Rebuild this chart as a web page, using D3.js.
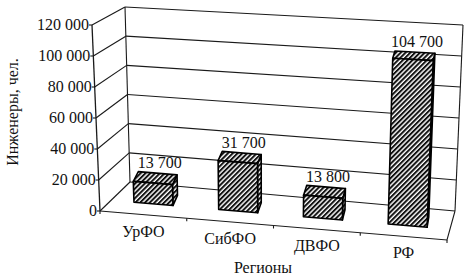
<!DOCTYPE html>
<html>
<head>
<meta charset="utf-8">
<script src="https://cdn.jsdelivr.net/npm/d3@7/dist/d3.min.js"></script>
<style>
  body { margin: 0; background: #fff; }
</style>
</head>
<body>
<svg id="chart" width="468" height="279" font-family="'Liberation Serif', 'DejaVu Serif', serif"></svg>
<script>
// data
var regions = ["УрФО", "СибФО", "ДВФО", "РФ"];
var engineers = [13700, 31700, 13800, 104700];
var yTicks = [0, 20000, 40000, 60000, 80000, 100000, 120000];
var yTitle = "Инженеры, чел.";
var xTitle = "Регионы";

var svg = d3.select("#chart");

// corners of the front (z=0) and back (z=1) planes, scan is a bit skewed
var F = { bl: [100, 211], tl: [92, 25], br: [447, 240], tr: [455, 45] };
var B = { bl: [130, 182], tl: [125, 7], br: [455, 211], tr: [463, 25] };

function lerp(a, b, k) { return [a[0] + (b[0] - a[0]) * k, a[1] + (b[1] - a[1]) * k]; }
function plane(P, u, t) { return lerp(lerp(P.bl, P.br, u), lerp(P.tl, P.tr, u), t); }
function proj(u, t, z) { return lerp(plane(F, u, t), plane(B, u, t), z); }

// bars look shallower sideways than the floor does
function barProj(u, t, za, zb) {
  var a = proj(u, t, za), b = proj(u, t, zb);
  return [a[0] + (b[0] - a[0]) * 0.5, a[1] + (b[1] - a[1])];
}

var x = d3.scaleBand().domain(regions).range([0, 1]).paddingInner(0.54).paddingOuter(0.27);
var y = d3.scaleLinear().domain([0, 120000]).range([0, 1]);
var fmt = function (v) { return d3.format(",")(v).replace(/,/g, " "); };
var line = d3.line();

// hatch
var defs = svg.append("defs");
var pat = defs.append("pattern")
  .attr("id", "hatch")
  .attr("patternUnits", "userSpaceOnUse")
  .attr("width", 3.4).attr("height", 3.4)
  .attr("patternTransform", "rotate(45)");
pat.append("rect").attr("width", 3.4).attr("height", 3.4).attr("fill", "#fff");
pat.append("line").attr("x1", 1).attr("y1", 0).attr("x2", 1).attr("y2", 3.4)
  .attr("stroke", "#111").attr("stroke-width", 2);

var frame = svg.append("g").attr("fill", "none").attr("stroke", "#1a1a1a").attr("stroke-width", 1.1);

// back wall gridlines + side wall gridlines
yTicks.forEach(function (v) {
  var t = y(v);
  frame.append("path").attr("d", line([proj(0, t, 1), proj(1, t, 1)]));
  frame.append("path").attr("d", line([proj(0, t, 0), proj(0, t, 1)]));
});
// wall edges
frame.append("path").attr("d", line([proj(0, 0, 1), proj(0, 1, 1)]));
frame.append("path").attr("d", line([proj(1, 0, 1), proj(1, 1, 1)]));
// floor
frame.append("path").attr("d", line([proj(0, 0, 0), proj(1, 0, 0), proj(1, 0, 1)]));
// value axis
frame.append("path").attr("d", line([proj(0, 0, 0), proj(0, 1, 0)])).attr("stroke-width", 1.3);

// value ticks and labels
yTicks.forEach(function (v) {
  var p = proj(0, y(v), 0);
  frame.append("path").attr("d", line([[p[0] - 3, p[1]], p]));
  svg.append("text")
    .attr("x", p[0] - 3).attr("y", p[1] + 5)
    .attr("text-anchor", "end")
    .attr("font-size", 16)
    .attr("fill", "#111")
    .text(fmt(v));
});

// category ticks
[0, 0.25, 0.5, 0.75, 1].forEach(function (u) {
  var p = proj(u, 0, 0);
  frame.append("path").attr("d", line([p, [p[0], p[1] + 3]]));
});

// bars
var z0 = 0.37, z1 = 0.72;
var bw = x.bandwidth();
var bars = svg.append("g")
  .attr("fill", "url(#hatch)").attr("stroke", "#000")
  .attr("stroke-width", 1.6).attr("stroke-linejoin", "round");

regions.forEach(function (r, i) {
  var u0 = x(r), u1 = u0 + bw, t = y(engineers[i]);
  var side = [proj(u1, 0, z0), barProj(u1, 0, z0, z1), barProj(u1, t, z0, z1), proj(u1, t, z0)];
  var top = [proj(u0, t, z0), proj(u1, t, z0), barProj(u1, t, z0, z1), barProj(u0, t, z0, z1)];
  var front = [proj(u0, 0, z0), proj(u1, 0, z0), proj(u1, t, z0), proj(u0, t, z0)];
  [side, top, front].forEach(function (f) {
    bars.append("path").attr("d", line(f) + "Z");
  });
  var lp = barProj(u0 + bw / 2, t, z0, z1);
  svg.append("text")
    .attr("x", lp[0] + 2).attr("y", lp[1] - 5)
    .attr("text-anchor", "middle")
    .attr("font-size", 16)
    .attr("fill", "#111")
    .text(fmt(engineers[i]));

  var cp = proj(u0 + bw / 2, 0, 0);
  svg.append("text")
    .attr("x", cp[0]).attr("y", cp[1] + 22)
    .attr("text-anchor", "middle")
    .attr("font-size", 16)
    .attr("fill", "#111")
    .text(r);
});

// titles
svg.append("text")
  .attr("x", 263).attr("y", 273)
  .attr("text-anchor", "middle")
  .attr("font-size", 16)
  .attr("fill", "#111")
  .text(xTitle);

svg.append("text")
  .attr("transform", "translate(18,112) rotate(-90)")
  .attr("text-anchor", "middle")
  .attr("font-size", 16)
  .attr("fill", "#111")
  .text(yTitle);
</script>
</body>
</html>
